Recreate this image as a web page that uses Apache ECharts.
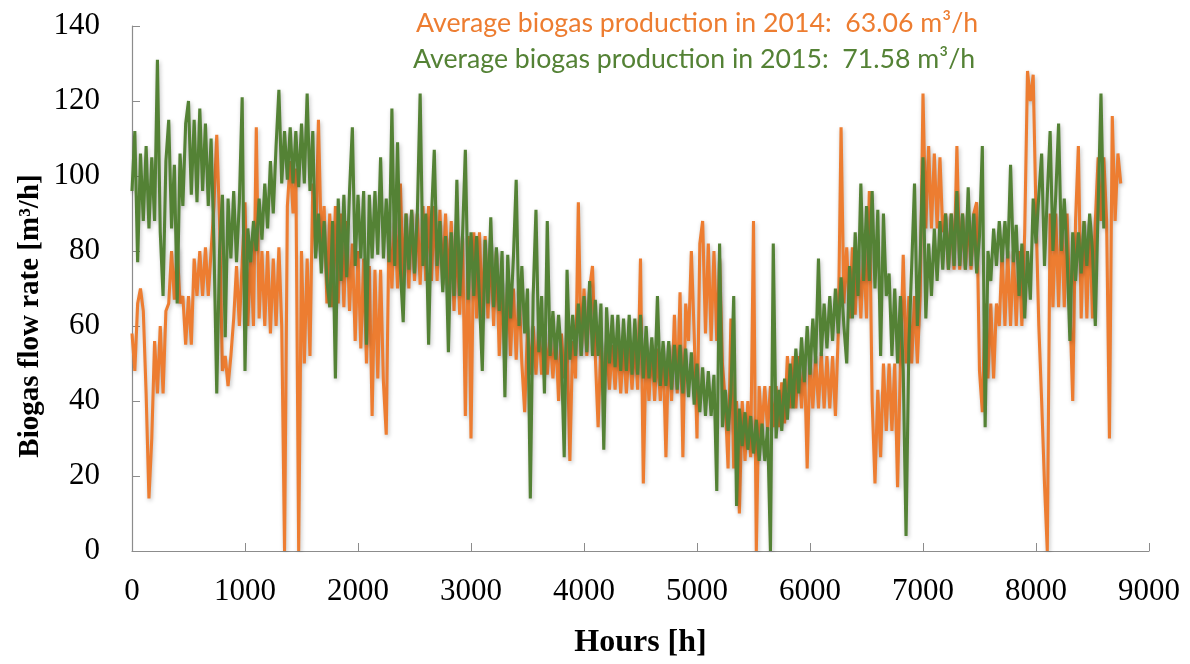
<!DOCTYPE html>
<html>
<head>
<meta charset="utf-8">
<script src="https://cdn.jsdelivr.net/npm/echarts@6/dist/echarts.min.js"></script>
<style>
  html, body { margin: 0; padding: 0; background: #fff; }
  #chart { width: 1190px; height: 664px; }
</style>
</head>
<body>
<div id="chart"></div>
<script>
// Hourly biogas flow rate, sampled every HOUR_STEP hours of the year.
const HOUR_STEP = 25;

// 2014 flow rate [m3/h], from hour 0 to 8750
const flow2014 = [
  58,48,66,70,64,42,14,30,56,42,60,42,64,66,80,67,81,66,68,55,68,55,78,68,80,68,81,68,80,92,111,88,48,52,44,52,62,76,60,77,
  93,60,80,60,113,62,80,60,80,58,78,60,81,60,0,92,104,90,102,0,80,50,78,52,98,80,115,82,92,66,90,65,92,66,90,65,88,64,82,56,
  80,54,78,50,76,36,75,46,75,45,31,88,70,90,70,98,71,90,70,91,72,90,71,92,72,92,72,92,72,91,71,90,70,88,64,85,63,84,36,84,
  30,85,62,85,62,84,62,82,60,80,52,72,52,72,52,70,51,70,50,37,60,47,60,47,60,47,59,47,58,46,58,40,58,46,57,24,56,46,93,52,
  70,52,70,76,52,33,56,43,56,43,55,43,55,42,55,42,55,43,56,43,78,18,55,40,55,40,54,40,54,25,55,40,63,42,69,25,66,56,80,58,
  30,82,88,58,82,56,80,56,78,50,40,22,62,22,40,10,40,24,40,25,88,0,44,32,44,32,44,33,44,33,45,34,52,38,52,38,52,38,52,22,
  52,38,52,38,53,38,52,38,52,36,58,113,66,81,62,81,63,80,62,80,62,96,40,18,43,25,50,32,50,32,50,17,50,79,50,68,50,68,50,68,
  122,86,108,86,106,86,105,85,90,75,90,75,108,75,90,75,90,75,90,93,48,37,66,46,66,46,66,60,80,60,80,60,80,60,80,60,85,128,120,127,
  90,60,40,18,0,90,65,90,65,90,65,90,65,40,88,108,62,88,62,88,62,88,105,88,105,88,30,116,88,106,98
];

// 2015 flow rate [m3/h], from hour 0 to 8600
const flow2015 = [
  96,112,77,106,88,108,86,105,88,131,85,68,104,115,86,103,66,106,92,114,120,95,115,93,118,96,114,92,110,82,42,80,95,57,94,78,96,77,93,121,
  48,86,77,88,80,94,83,98,86,104,90,108,123,98,112,99,113,98,112,97,114,98,122,96,112,78,90,74,88,72,65,88,46,94,72,95,73,96,113,76,
  95,78,96,55,95,78,96,79,105,78,94,77,118,76,109,75,61,90,75,91,74,90,122,76,90,55,89,107,76,88,69,84,53,85,68,99,68,84,107,67,
  85,68,84,67,48,83,66,89,65,81,64,80,41,79,62,78,99,60,76,58,70,14,68,91,53,68,42,88,52,64,51,63,52,25,75,51,63,52,66,52,
  68,53,72,52,67,52,66,27,65,50,63,49,63,48,62,48,63,47,62,47,63,46,60,46,57,45,68,44,56,44,56,43,55,43,55,42,54,41,53,39,
  50,37,49,36,48,36,47,16,82,33,43,32,42,68,12,38,28,37,27,36,26,35,24,34,24,33,0,82,30,43,32,46,35,50,38,54,42,57,45,60,
  47,62,50,78,52,66,54,68,56,70,58,73,60,50,76,62,85,68,98,72,92,72,96,70,91,52,90,68,74,52,70,50,68,48,4,55,76,98,60,78,
  105,62,82,68,86,72,88,75,90,75,90,76,96,76,90,75,97,76,90,74,84,108,33,80,72,86,76,88,77,88,78,103,77,87,68,82,62,80,67,94,
  82,95,106,76,95,112,80,95,114,80,94,79,56,85,72,85,74,88,76,90,80,60,92,122,86
];

const yTicks = { min: 0, max: 140, step: 20 };
const xTicks = { min: 0, max: 9000, step: 1000 };

const mean2014 = '63.06';
const mean2015 = '71.58';

const ORANGE = '#ED7D31';
const GREEN = '#548235';

function toPoints(values) {
  return values.map((v, i) => [i * HOUR_STEP, v]);
}

const chart = echarts.init(document.getElementById('chart'), null, { renderer: 'canvas' });

const serif = '"Liberation Serif", "Times New Roman", serif';
const sans = 'Lato, "Open Sans", sans-serif';

function lineSeries(name, values, color) {
  return {
    name: name,
    type: 'line',
    data: toPoints(values),
    showSymbol: false,
    symbol: 'none',
    smooth: false,
    lineStyle: {
      color: color,
      width: 3.1,
      join: 'miter',
      miterLimit: 3,
      shadowColor: 'rgba(0,0,0,0.25)',
      shadowBlur: 4,
      shadowOffsetX: 1,
      shadowOffsetY: 2
    },
    emphasis: { disabled: true }
  };
}

chart.setOption({
  animation: false,
  backgroundColor: '#fff',
  grid: { left: 132, right: 41, top: 26, bottom: 106, containLabel: false },
  xAxis: {
    type: 'value',
    min: xTicks.min,
    max: xTicks.max,
    interval: xTicks.step,
    name: 'Hours [h]',
    nameLocation: 'middle',
    nameGap: 76,
    nameTextStyle: { fontFamily: serif, fontWeight: 'bold', fontSize: 32, color: '#000' },
    axisLine: { show: true, lineStyle: { color: '#8c8c8c', width: 1.2 } },
    axisTick: { show: true, inside: true, length: 8, lineStyle: { color: '#8c8c8c' } },
    axisLabel: { margin: 25, fontFamily: serif, fontSize: 31, color: '#000', formatter: v => String(v) },
    splitLine: { show: false }
  },
  yAxis: {
    type: 'value',
    min: yTicks.min,
    max: yTicks.max,
    interval: yTicks.step,
    axisLine: { show: true, lineStyle: { color: '#8c8c8c', width: 1.2 } },
    axisTick: { show: true, inside: true, length: 8, lineStyle: { color: '#8c8c8c' } },
    axisLabel: { margin: 32, fontFamily: serif, fontSize: 31, color: '#000' },
    splitLine: { show: false }
  },
  graphic: [
    {
      type: 'text', x: 31, y: 316, rotation: Math.PI / 2, z: 10,
      style: {
        text: 'Biogas flow rate [m³/h]',
        fontFamily: serif, fontWeight: 'bold', fontSize: 29, fill: '#000',
        align: 'center', verticalAlign: 'middle'
      }
    },
    {
      type: 'text', left: 416, top: 10, z: 10,
      style: {
        text: 'Average biogas production in 2014:  ' + mean2014 + ' m³/h',
        fontFamily: sans, fontSize: 26.7, fill: ORANGE
      }
    },
    {
      type: 'text', left: 413, top: 46, z: 10,
      style: {
        text: 'Average biogas production in 2015:  ' + mean2015 + ' m³/h',
        fontFamily: sans, fontSize: 26.7, fill: GREEN
      }
    }
  ],
  series: [
    lineSeries('2014', flow2014, ORANGE),
    lineSeries('2015', flow2015, GREEN)
  ]
});
</script>
</body>
</html>
